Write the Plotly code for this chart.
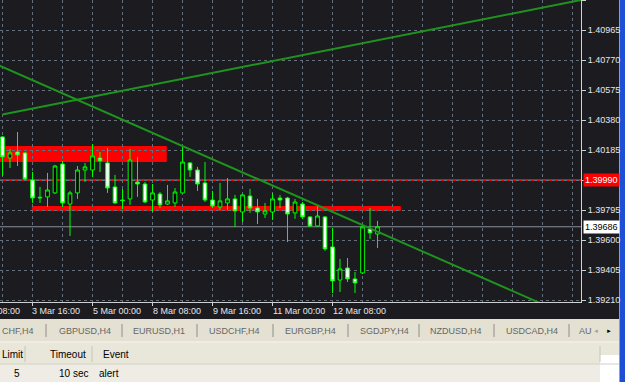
import plotly.graph_objects as go

# ---------------- data ----------------
bar_index = list(range(51))
opens = [1.40270, 1.40133, 1.40172, 1.40166, 1.39990, 1.39873, 1.39880, 1.39906, 1.40094, 1.39834,
         1.39906, 1.40055, 1.40055, 1.40133, 1.40101, 1.39945, 1.39860, 1.39867, 1.39977, 1.39964,
         1.39860, 1.39899, 1.39834, 1.39841, 1.39906, 1.40101, 1.40055, 1.39971, 1.39860, 1.39815,
         1.39841, 1.39867, 1.39782, 1.39886, 1.39808, 1.39769, 1.39782, 1.39873, 1.39873, 1.39776,
         1.39834, 1.39750, 1.39691, 1.39750, 1.39555, 1.39340, 1.39418, 1.39347, 1.39386, 1.39672,
         1.39639]
highs = [1.40275, 1.40192, 1.40302, 1.40172, 1.40042, 1.39945, 1.40036, 1.40088, 1.40114, 1.39919,
         1.40081, 1.40101, 1.40224, 1.40172, 1.40198, 1.40023, 1.39932, 1.40192, 1.40140, 1.39977,
         1.39964, 1.39912, 1.39958, 1.39938, 1.40205, 1.40107, 1.40075, 1.40107, 1.39919, 1.39971,
         1.40003, 1.39893, 1.39899, 1.39932, 1.39867, 1.39841, 1.39906, 1.39893, 1.39880, 1.39867,
         1.39847, 1.39756, 1.39828, 1.39756, 1.39678, 1.39477, 1.39483, 1.39392, 1.39698, 1.39808,
         1.39724]
lows = [1.40016, 1.40068, 1.40081, 1.39990, 1.39841, 1.39841, 1.39815, 1.39899, 1.39815, 1.39626,
        1.39867, 1.39977, 1.40010, 1.40042, 1.39906, 1.39834, 1.39802, 1.39828, 1.39880, 1.39841,
        1.39782, 1.39808, 1.39828, 1.39815, 1.39906, 1.40010, 1.39919, 1.39847, 1.39808, 1.39795,
        1.39795, 1.39685, 1.39717, 1.39776, 1.39704, 1.39743, 1.39730, 1.39808, 1.39587, 1.39737,
        1.39737, 1.39685, 1.39685, 1.39529, 1.39255, 1.39262, 1.39327, 1.39255, 1.39379, 1.39607,
        1.39548]
closes = [1.40140, 1.40166, 1.40153, 1.39997, 1.39873, 1.39877, 1.39925, 1.40081, 1.39841, 1.39906,
          1.40055, 1.40075, 1.40146, 1.40114, 1.39938, 1.39841, 1.39856, 1.40120, 1.39964, 1.39847,
          1.39906, 1.39828, 1.39854, 1.39912, 1.40107, 1.40055, 1.39964, 1.39860, 1.39821, 1.39854,
          1.39867, 1.39789, 1.39893, 1.39808, 1.39782, 1.39789, 1.39867, 1.39860, 1.39769, 1.39847,
          1.39750, 1.39691, 1.39756, 1.39542, 1.39334, 1.39412, 1.39347, 1.39321, 1.39685, 1.39646,
          1.39686]

time_label_index = [-4, 4, 12, 20, 28, 36, 44]
time_labels = ["2 Mar 08:00", "3 Mar 16:00", "5 Mar 00:00", "8 Mar 08:00",
               "9 Mar 16:00", "11 Mar 00:00", "12 Mar 08:00"]

price_ticks = [1.39210, 1.39405, 1.39600, 1.39795, 1.39990, 1.40185,
               1.40380, 1.40575, 1.40770, 1.40965, 1.41160]

up_line_x = [0, 80]
up_line_y = [1.40416, 1.41188]
down_line_x = [-2, 75]
down_line_y = [1.40767, 1.39119]

rect_zone_x = [[-1, 21.9], [3.9, 53.1]]
rect_zone_y = [[1.40107, 1.40211], [1.39789, 1.39821]]

alert_level = 1.39990
bid_price = 1.39686

tabs = ["CHF,H4", "GBPUSD,H4", "EURUSD,H1", "USDCHF,H4", "EURGBP,H4",
        "SGDJPY,H4", "NZDUSD,H4", "USDCAD,H4", "AU"]
table_headers = ["Limit", "Timeout", "Event"]
table_row = ["5", "10 sec", "alert"]

# ---------------- layout helpers ----------------
W, H = 625, 382
PL, PR, PT, PB = 0, 581, 0, 302  # plot area in pixels
X_RANGE = [-0.333, 77.13]
Y_RANGE = [1.39197, 1.41160]


def xp(px):
    return (px - PL) / (PR - PL)


def yp(py):
    return (PB - py) / (PB - PT)


def x_to_paper(v):
    return (v - X_RANGE[0]) / (X_RANGE[1] - X_RANGE[0])


BG = "#1b1b20"
GRID = "#66707c"
FONT = "Liberation Sans, Arial"

fig = go.Figure()

fig.add_trace(go.Candlestick(
    x=bar_index, open=opens, high=highs, low=lows, close=closes,
    increasing=dict(line=dict(color="#00ff00", width=1), fillcolor="#000000"),
    decreasing=dict(line=dict(color="#00ff00", width=1), fillcolor="#ffffff"),
    whiskerwidth=0, showlegend=False, hoverinfo="skip",
))

fig.add_trace(go.Scatter(x=up_line_x, y=up_line_y, mode="lines",
                         line=dict(color="#1e931e", width=2), showlegend=False, hoverinfo="skip"))
fig.add_trace(go.Scatter(x=down_line_x, y=down_line_y, mode="lines",
                         line=dict(color="#1e931e", width=2), showlegend=False, hoverinfo="skip"))

shapes = []
for (x0, x1), (y0, y1) in zip(rect_zone_x, rect_zone_y):
    shapes.append(dict(type="rect", xref="x", yref="y", x0=x0, x1=x1, y0=y0, y1=y1,
                       fillcolor="#ff0000", line=dict(width=0), layer="below"))
shapes.append(dict(type="line", xref="paper", yref="y", x0=0, x1=1, y0=alert_level, y1=alert_level,
                   line=dict(color="#ff0000", width=2), layer="below"))
shapes.append(dict(type="line", xref="paper", yref="y", x0=0, x1=1, y0=bid_price, y1=bid_price,
                   line=dict(color="#8a9099", width=1), layer="below"))

# lower panel (tabs + alert table)
shapes.append(dict(type="rect", xref="paper", yref="paper", x0=xp(0), x1=xp(619), y0=yp(319), y1=yp(382),
                   fillcolor="#e4e1d3", line=dict(width=0), layer="below"))
shapes.append(dict(type="rect", xref="paper", yref="paper", x0=xp(0), x1=xp(619), y0=yp(343), y1=yp(364),
                   fillcolor="#e9e6da", line=dict(width=0), layer="below"))
shapes.append(dict(type="rect", xref="paper", yref="paper", x0=xp(0), x1=xp(619), y0=yp(364), y1=yp(382),
                   fillcolor="#eeece4", line=dict(width=0), layer="below"))
shapes.append(dict(type="rect", xref="paper", yref="paper", x0=xp(600), x1=xp(619), y0=yp(355), y1=yp(382),
                   fillcolor="#ffffff", line=dict(width=0), layer="below"))
shapes.append(dict(type="line", xref="paper", yref="paper", x0=xp(0), x1=xp(619), y0=yp(342), y1=yp(342),
                   line=dict(color="#f8f8f4", width=1)))
shapes.append(dict(type="line", xref="paper", yref="paper", x0=xp(0), x1=xp(619), y0=yp(364), y1=yp(364),
                   line=dict(color="#d4d0c4", width=1)))
for sx in [25, 92, 600]:
    shapes.append(dict(type="line", xref="paper", yref="paper", x0=xp(sx), x1=xp(sx), y0=yp(346), y1=yp(362),
                       line=dict(color="#c8c4b8", width=1)))
for sx in [46, 122, 197, 273, 348, 419, 494, 569]:
    shapes.append(dict(type="line", xref="paper", yref="paper", x0=xp(sx), x1=xp(sx), y0=yp(324), y1=yp(337),
                       line=dict(color="#8c8c8c", width=1)))
# blue window border on the right
shapes.append(dict(type="rect", xref="paper", yref="paper", x0=xp(619), x1=xp(625), y0=yp(0), y1=yp(382),
                   fillcolor="#1d4fd6", line=dict(width=0), layer="below"))
shapes.append(dict(type="line", xref="paper", yref="paper", x0=xp(619.5), x1=xp(619.5), y0=yp(0), y1=yp(382),
                   line=dict(color="#7f9ee8", width=1), layer="below"))

annotations = []
for idx, lab in zip(time_label_index, time_labels):
    annotations.append(dict(x=x_to_paper(idx), y=yp(311), xref="paper", yref="paper", text=lab,
                            showarrow=False, xanchor="left", yanchor="middle", xshift=-2,
                            font=dict(family=FONT, size=9, color="#e6e6e6")))
annotations.append(dict(x=xp(583), y=alert_level, xref="paper", yref="y", text="1.39990", showarrow=False,
                        xanchor="left", yanchor="middle", bgcolor="#ff0000", borderpad=1,
                        font=dict(family=FONT, size=9, color="#ffffff")))
annotations.append(dict(x=xp(583), y=bid_price, xref="paper", yref="y", text="1.39686", showarrow=False,
                        xanchor="left", yanchor="middle", bgcolor="#ffffff", borderpad=1,
                        font=dict(family=FONT, size=9, color="#000000")))
tab_x = [0, 57, 131, 207, 283, 358, 428, 504, 577]
for tx, t in zip(tab_x, tabs):
    annotations.append(dict(x=xp(tx), y=yp(331), xref="paper", yref="paper", text=t, showarrow=False,
                            xanchor="left", yanchor="middle",
                            font=dict(family=FONT, size=9, color="#666666")))
annotations.append(dict(x=xp(596), y=yp(331), xref="paper", yref="paper", text="◄", showarrow=False,
                        xanchor="center", yanchor="middle", font=dict(family=FONT, size=6, color="#a0a0a0")))
annotations.append(dict(x=xp(609), y=yp(331), xref="paper", yref="paper", text="►", showarrow=False,
                        xanchor="center", yanchor="middle", font=dict(family=FONT, size=6, color="#000000")))
hdr_pos = [(0, "left"), (88, "right"), (101, "left")]
row_pos = [(22, "right"), (90, "right"), (97, "left")]
for (hx, anc), t in zip(hdr_pos, table_headers):
    annotations.append(dict(x=xp(hx), y=yp(355), xref="paper", yref="paper", text=t, showarrow=False,
                            xanchor=anc, yanchor="middle",
                            font=dict(family=FONT, size=10, color="#000000")))
for (rx, anc), t in zip(row_pos, table_row):
    annotations.append(dict(x=xp(rx), y=yp(374), xref="paper", yref="paper", text=t, showarrow=False,
                            xanchor=anc, yanchor="middle",
                            font=dict(family=FONT, size=10, color="#000000")))

fig.update_layout(
    width=W, height=H,
    margin=dict(l=PL, r=W - PR, t=PT, b=H - PB, autoexpand=False),
    paper_bgcolor=BG, plot_bgcolor=BG,
    shapes=shapes, annotations=annotations,
    showlegend=False,
    boxgap=0.3, boxgroupgap=0.3,
)
fig.update_xaxes(
    range=X_RANGE, rangeslider=dict(visible=False),
    tickvals=time_label_index, showticklabels=False,
    ticks="outside", ticklen=3, tickcolor="#d0d0d0",
    showgrid=True, gridcolor=GRID, griddash="3px,3px", gridwidth=1,
    minor=dict(dtick=4, tick0=0, showgrid=True, gridcolor=GRID, griddash="3px,3px", ticks=""),
    showline=True, linecolor="#d0d0d0", linewidth=1, zeroline=False,
)
fig.update_yaxes(
    range=Y_RANGE, side="right",
    tickvals=price_ticks,
    ticktext=["" if abs(v - alert_level) < 1e-9 else f"{v:.5f}" for v in price_ticks],
    ticks="outside", ticklen=4, tickcolor="#d0d0d0",
    tickfont=dict(family=FONT, size=9, color="#e6e6e6"),
    showgrid=True, gridcolor=GRID, griddash="3px,3px", gridwidth=1,
    showline=True, linecolor="#d0d0d0", linewidth=1, zeroline=False,
)

fig.write_html("out.html")
